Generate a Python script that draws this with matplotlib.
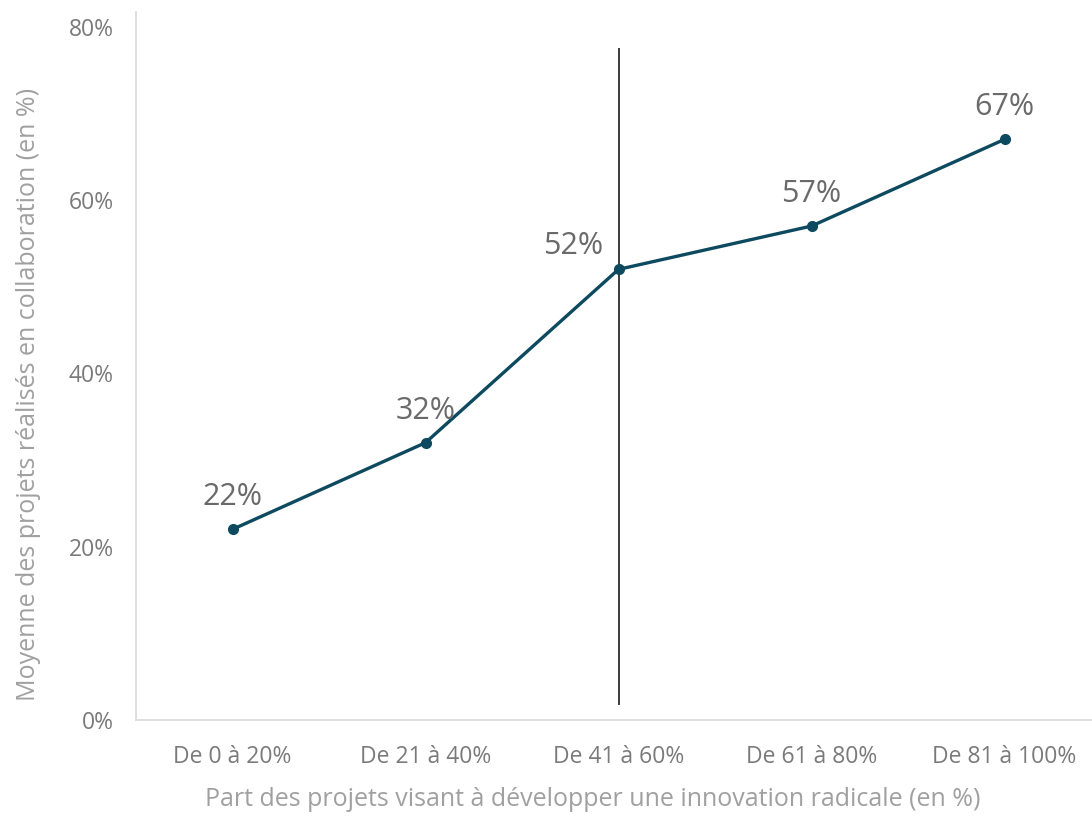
import matplotlib.pyplot as plt

# Data
categories = ['De 0 à 20%', 'De 21 à 40%', 'De 41 à 60%', 'De 61 à 80%', 'De 81 à 100%']
values = [22, 32, 52, 57, 67]
yticks = [0, 20, 40, 60, 80]
marked_index = 2

plt.rcParams['font.family'] = ['Open Sans', 'DejaVu Sans']

fig = plt.figure(figsize=(10.92, 8.19), dpi=100)
ax = fig.add_axes([136 / 1092, 1 - 720 / 819, 965 / 1092, 708 / 819])

x = range(len(categories))
ax.plot(x, values, color='#0e4a5f', lw=2.4, marker='o', ms=7, zorder=3)

# vertical reference line
ax.vlines(marked_index, 1.7, 77.6, color='#1a1a1a', lw=1.2, zorder=2)

# data labels
for i, v in enumerate(values):
    if i == marked_index:
        off = (-33, 17)
    else:
        off = (0, 23)
    ax.annotate(f'{v}%', (i, v), xytext=off, textcoords='offset points',
                ha='center', va='center', fontsize=22, color='#6a6a6a')

ax.set_xlim(-0.5, 4.5)
ax.set_ylim(0, 81.7)
ax.set_xticks(list(x))
ax.set_xticklabels(categories, fontsize=16.5, color='#7a7a7a')
ax.set_yticks(yticks)
ax.set_yticklabels([f'{t}%' for t in yticks], fontsize=16.5, color='#7a7a7a')
ax.tick_params(axis='x', length=0, pad=18)
ax.tick_params(axis='y', length=0, pad=16)

for s in ['top', 'right']:
    ax.spines[s].set_visible(False)
for s in ['left', 'bottom']:
    ax.spines[s].set_color('#d9d9d9')
    ax.spines[s].set_linewidth(1.2)

ax.set_xlabel('Part des projets visant à développer une innovation radicale (en %)',
              fontsize=18, color='#a0a0a0', labelpad=13, x=0.473)
ax.set_ylabel('Moyenne des projets réalisés en collaboration (en %)',
              fontsize=18, color='#a0a0a0', labelpad=20, y=0.46)

fig.savefig('out.png', dpi=100)
